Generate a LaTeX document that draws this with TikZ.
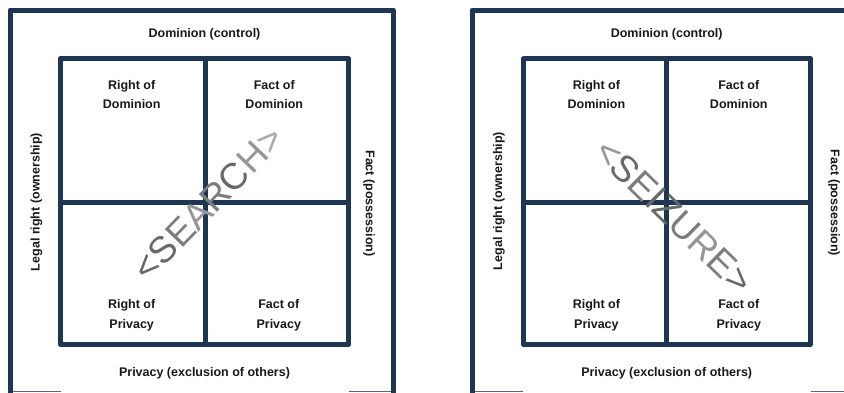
\documentclass[tikz,border=0pt]{standalone}
\usepackage{fontspec}
\setmainfont{Liberation Sans}
\definecolor{navy}{RGB}{31,53,84}
\definecolor{ink}{RGB}{25,25,25}
\definecolor{ga}{RGB}{105,105,105}
\definecolor{gb}{RGB}{125,125,125}
\definecolor{gc}{RGB}{150,150,150}
\definecolor{gd}{RGB}{170,170,170}
\begin{document}
\begin{tikzpicture}[x=1pt,y=-1pt,
  frame/.style={draw=navy,line width=5pt,line join=round},
  thinedge/.style={draw=navy!75,line width=1.2pt},
  lbl/.style={font=\bfseries\fontsize{12.5}{19.5}\selectfont,align=center,text=ink,inner sep=0pt},
  big/.style={font=\fontsize{37}{37}\selectfont,text=gb,inner sep=0pt}]
\useasboundingbox (0,0) rectangle (844,392);
\fill[white] (0,0) rectangle (844,392);
% ---------- left panel ----------
\draw[frame] (10,393) -- (10,10) -- (393.3,10) -- (393.3,393);
\draw[thinedge] (12.5,391.4) -- (61,391.4);
\draw[thinedge] (349,391.4) -- (390.8,391.4);
\draw[frame] (60.5,58.5) rectangle (348.3,344.5);
\draw[frame] (205,58.5) -- (205,344.5);
\draw[frame] (60.5,202.5) -- (348.3,202.5);
\node[lbl] (ltop) at (204.5,34) {Dominion (control)};
\node[lbl] (lbot) at (204.5,373.3) {Privacy (exclusion of others)};
\node[lbl,rotate=90] (lleft) at (36.5,202) {Legal right (ownership)};
\node[lbl,rotate=-90] (lright) at (369,203.5) {Fact (possession)};
\node[lbl] (lrd) at (131.7,94.7) {Right of\\Dominion};
\node[lbl] (lfd) at (274.3,94.7) {Fact of\\Dominion};
\node[lbl] (lrp) at (131.7,315.3) {Right of\\Privacy};
\node[lbl] (lfp) at (278.8,315.3) {Fact of\\Privacy};
\node[big,rotate=46] (search) at (208.3,203.3) {\textcolor{ga}{<}\textcolor{ga}{S}\textcolor{gb}{E}\textcolor{gc}{A}\textcolor{gb}{R}\textcolor{ga}{C}\textcolor{gc}{H}\textcolor{gd}{>}};
% ---------- right panel ----------
\draw[frame] (472,393) -- (472,10) -- (850,10);
\draw[thinedge] (474.5,391.4) -- (523,391.4);
\draw[thinedge] (811,391.4) -- (844,391.4);
\draw[frame] (523.5,58.5) rectangle (810.5,344.5);
\draw[frame] (666.5,58.5) -- (666.5,344.5);
\draw[frame] (523.5,202.5) -- (810.5,202.5);
\node[lbl] (rtop) at (666.7,34) {Dominion (control)};
\node[lbl] (rbot) at (666.7,373.3) {Privacy (exclusion of others)};
\node[lbl,rotate=90] (rleft) at (499,201) {Legal right (ownership)};
\node[lbl,rotate=-90] (rright) at (834,203) {Fact (possession)};
\node[lbl] (rrd) at (596.4,94.7) {Right of\\Dominion};
\node[lbl] (rfd) at (738.8,94.7) {Fact of\\Dominion};
\node[lbl] (rrp) at (596.4,315.3) {Right of\\Privacy};
\node[lbl] (rfp) at (738.8,315.3) {Fact of\\Privacy};
\node[big,rotate=-44.3] (seizure) at (674,216) {\textcolor{gc}{<}\textcolor{ga}{S}\textcolor{gb}{E}\textcolor{ga}{I}\textcolor{ga}{Z}\textcolor{gb}{U}\textcolor{gc}{R}\textcolor{gb}{E}\textcolor{ga}{>}};
\end{tikzpicture}
\end{document}
